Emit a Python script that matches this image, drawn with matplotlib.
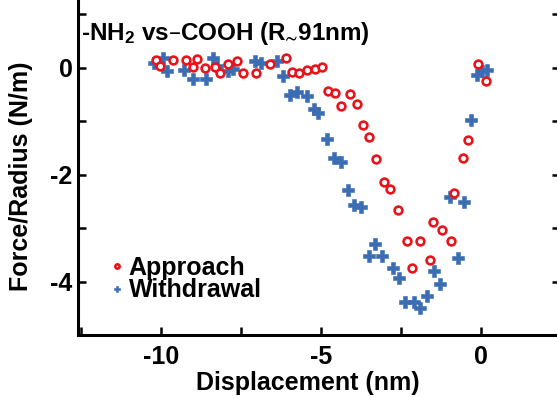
import matplotlib
matplotlib.use("Agg")
import matplotlib.pyplot as plt
from matplotlib.ticker import MultipleLocator

# Approach curve: displacement (nm) and force/radius (N/m)
approach_x = [-10.17, -10.03, -9.62, -9.22, -8.89, -8.99, -8.63, -8.31, -8.16, -7.90,
              -7.64, -7.45, -7.03, -6.59, -6.09, -5.92, -5.68, -5.45, -5.19, -4.96,
              -4.77, -4.58, -4.38, -4.09, -3.89, -3.70, -3.49, -3.28, -3.03, -2.84,
              -2.58, -2.30, -1.91, -2.17, -1.61, -1.49, -1.21, -0.95, -0.83, -0.55,
              -0.42, -0.08, 0.15]
approach_y = [0.14, 0.04, 0.14, 0.15, 0.16, 0.01, 0.00, 0.02, -0.10, 0.07,
              0.12, -0.09, -0.10, 0.06, 0.18, -0.08, -0.09, -0.04, -0.02, 0.02,
              -0.44, -0.47, -0.71, -0.50, -0.68, -1.08, -1.29, -1.70, -2.13, -2.27,
              -2.66, -3.25, -3.25, -3.75, -3.59, -2.88, -3.04, -3.25, -2.35, -1.68,
              -1.35, 0.06, -0.24]

# Withdrawal curve
withdrawal_x = [-10.21, -9.93, -9.82, -9.28, -8.99, -8.61, -8.38, -8.26, -7.90, -7.74,
                -7.06, -6.89, -6.39, -6.18, -5.97, -5.74, -5.45, -5.21, -5.11, -4.82,
                -4.61, -4.39, -4.15, -3.97, -3.76, -3.31, -3.49, -3.08, -2.76, -2.56,
                -2.38, -2.11, -1.91, -1.70, -1.46, -1.28, -0.97, -0.73, -0.53, -0.32,
                -0.13, 0.02, 0.18]
withdrawal_y = [0.09, 0.18, -0.07, -0.05, -0.22, -0.21, 0.18, 0.04, -0.07, -0.02,
                0.12, 0.09, 0.12, -0.15, -0.52, -0.46, -0.53, -0.77, -0.84, -1.33,
                -1.68, -1.76, -2.29, -2.56, -2.60, -3.30, -3.53, -3.53, -3.75, -3.93,
                -4.39, -4.38, -4.49, -4.27, -3.81, -4.05, -2.41, -3.56, -2.52, -0.97,
                -0.13, -0.07, -0.04]

x_major = [-10, -5, 0]
x_tick_labels = ["-10", "-5", "0"]
y_major = [0, -2, -4]
y_tick_labels = ["0", "-2", "-4"]

plt.rcParams["font.family"] = ["Liberation Sans", "DejaVu Sans"]
plt.rcParams["font.weight"] = "bold"
plt.rcParams["axes.unicode_minus"] = False
plt.rcParams["mathtext.default"] = "regular"

RED = "#e8141c"
BLUE = "#3a6db3"

fig = plt.figure(figsize=(5.57, 3.98), dpi=100)
W, H = 557, 398
left, right, bottom, top = 78, 560, 335, -12.5
ax = fig.add_axes([left / W, 1 - bottom / H, (right - left) / W, (bottom - top) / H])

ax.plot(approach_x, approach_y, linestyle="none", marker="o", ms=5.6,
        mfc="white", mec=RED, mew=1.9, label="Approach", zorder=3)
ax.plot(withdrawal_x, withdrawal_y, linestyle="none", marker="P", ms=8,
        mfc=BLUE, mec=BLUE, mew=0.4, label="Withdrawal", zorder=2)

ax.set_xlim(-12.6, 2.47)
ax.set_ylim(-5, 1.5)

ax.set_xticks(x_major)
ax.set_xticklabels(x_tick_labels)
ax.set_yticks(y_major)
ax.set_yticklabels(y_tick_labels)
ax.xaxis.set_minor_locator(MultipleLocator(2.5))
ax.yaxis.set_minor_locator(MultipleLocator(1))

for s in ax.spines.values():
    s.set_linewidth(2.2)
ax.tick_params(which="both", direction="in", length=6, width=1.8,
               left=True, right=True, bottom=True, top=False)
ax.tick_params(axis="x", which="major", labelsize=18, pad=7)
ax.tick_params(axis="y", which="major", labelsize=18, pad=4)

fig.text(308 / W, 1 - 390 / H, "Displacement (nm)", fontsize=18,
         fontweight="bold", ha="center", va="baseline")
fig.text(21 / W, 1 - 176 / H, "Force/Radius (N/m)", fontsize=18,
         fontweight="bold", ha="center", va="center", rotation=90)
fig.text(81 / W, 1 - 40 / H, "-NH$_2$ vs\u2013COOH (R$\\!_{\\sim}\\!$91nm)",
         fontsize=17.5, fontweight="bold", ha="left", va="baseline")

leg = ax.legend(loc="center left", bbox_to_anchor=(111 / W, 1 - 279 / H),
                bbox_transform=fig.transFigure, frameon=False, fontsize=18,
                handlelength=0.5, handletextpad=0.2, labelspacing=-0.05,
                borderpad=0, borderaxespad=0, markerscale=0.55)

fig.savefig("out.png", dpi=100)
